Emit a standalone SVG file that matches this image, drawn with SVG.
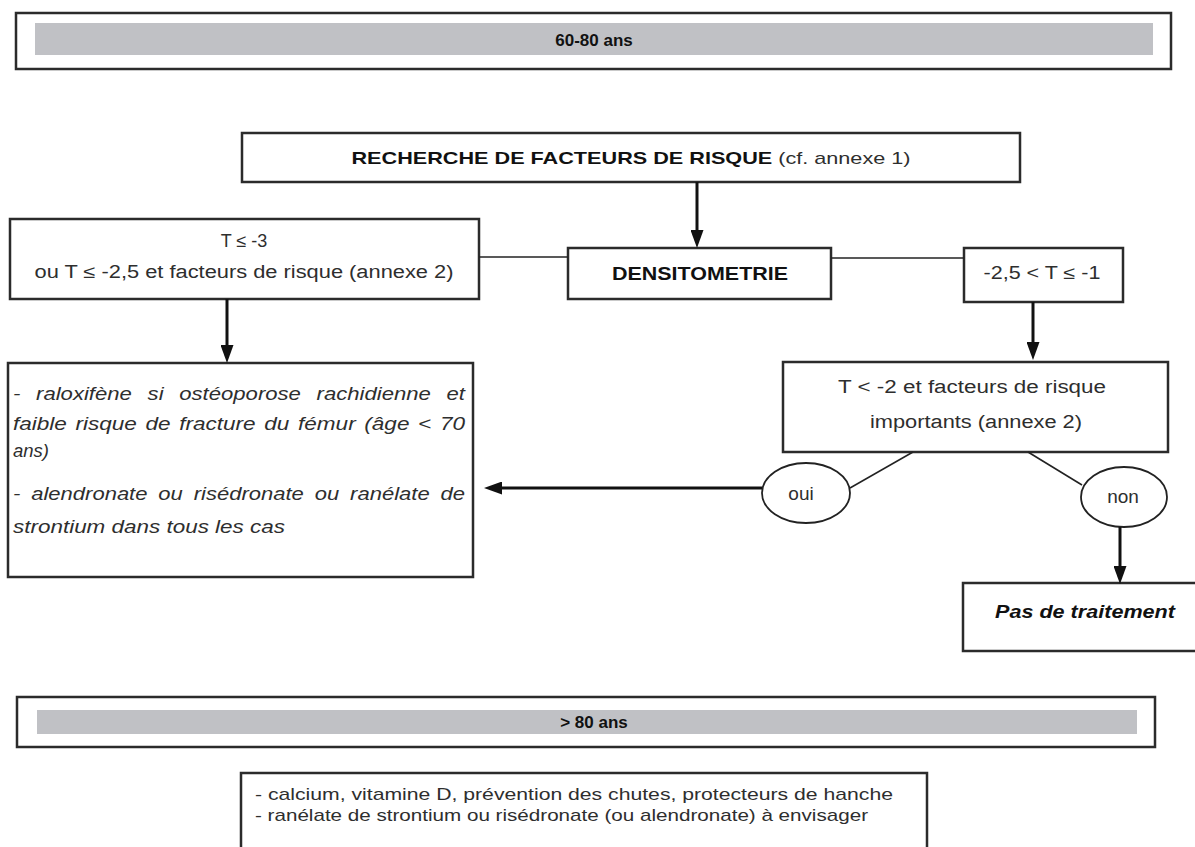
<svg xmlns="http://www.w3.org/2000/svg" width="1195" height="847" viewBox="0 0 1195 847">
<defs>
<marker id="ah" markerUnits="userSpaceOnUse" markerWidth="18" markerHeight="13" viewBox="0 0 18 13" refX="1" refY="6.5" orient="auto">
<path d="M0,0 L18,6.5 L0,13 z" fill="#111"/>
</marker>
<style>
.box{fill:#fff;stroke:#2b2b2b;stroke-width:2.5}
.band{fill:#c0c1c5}
.t{font-family:"Liberation Sans",Arial,sans-serif;font-size:17px;fill:#2e2e2e}
.b{font-weight:bold;fill:#111}
.i{font-style:italic}
.j{font-size:18.5px}
.arr{stroke:#111;stroke-width:3;fill:none}
.thin{stroke:#222;stroke-width:1.6;fill:none}
</style>
</defs>
<rect width="1195" height="847" fill="#fff"/>

<g id="banner-60-80">
<rect class="box" x="16" y="13" width="1155" height="56"/>
<rect class="band" x="35" y="23" width="1118" height="32"/>
<text class="t b" x="594" y="46" text-anchor="middle" style="font-size:17px">60-80 ans</text>
</g>

<g id="recherche">
<rect class="box" x="242" y="133" width="778" height="49"/>
<text class="t" x="631" y="164" text-anchor="middle" textLength="559" lengthAdjust="spacingAndGlyphs"><tspan class="b">RECHERCHE DE FACTEURS DE RISQUE</tspan> (cf. annexe 1)</text>
</g>

<g id="t-3">
<rect class="box" x="10" y="219" width="469" height="80"/>
<text class="t" x="244" y="247" text-anchor="middle" style="font-size:18px">T ≤ -3</text>
<text class="t" x="244" y="278" text-anchor="middle" textLength="419" lengthAdjust="spacingAndGlyphs" style="font-size:18px">ou T ≤ -2,5 et facteurs de risque (annexe 2)</text>
</g>

<g id="densitometrie">
<rect class="box" x="568" y="248" width="263" height="51"/>
<text class="t b" x="700" y="280" text-anchor="middle" textLength="176" lengthAdjust="spacingAndGlyphs" style="font-size:18px">DENSITOMETRIE</text>
</g>

<g id="t-25-1">
<rect class="box" x="964" y="248" width="159" height="54"/>
<text class="t" x="1042" y="279" text-anchor="middle" textLength="117" lengthAdjust="spacingAndGlyphs" style="font-size:18px">-2,5 &lt; T ≤ -1</text>
</g>

<g id="t-2">
<rect class="box" x="783" y="362" width="385" height="90"/>
<text class="t" x="972" y="393" text-anchor="middle" textLength="268" lengthAdjust="spacingAndGlyphs" style="font-size:18px">T &lt; -2 et facteurs de risque</text>
<text class="t" x="976" y="428" text-anchor="middle" textLength="212" lengthAdjust="spacingAndGlyphs" style="font-size:18px">importants (annexe 2)</text>
</g>

<g id="traitements">
<rect class="box" x="8" y="363" width="465" height="214"/>
<text class="t i j" x="13" y="400" textLength="452" lengthAdjust="spacingAndGlyphs" word-spacing="8">- raloxifène si ostéoporose rachidienne et</text>
<text class="t i j" x="13" y="430" textLength="452" lengthAdjust="spacingAndGlyphs" word-spacing="2">faible risque de fracture du fémur (âge &lt; 70</text>
<text class="t i j" x="13" y="457">ans)</text>
<text class="t i j" x="13" y="500" textLength="452" lengthAdjust="spacingAndGlyphs" word-spacing="4">- alendronate ou risédronate ou ranélate de</text>
<text class="t i j" x="13" y="533" textLength="272" lengthAdjust="spacingAndGlyphs">strontium dans tous les cas</text>
</g>

<g id="oui">
<ellipse cx="806" cy="493" rx="44" ry="30" fill="#fff" stroke="#222" stroke-width="1.8"/>
<text class="t" x="801" y="500" text-anchor="middle" style="font-size:19px">oui</text>
</g>

<g id="non">
<ellipse cx="1124" cy="497" rx="43" ry="30" fill="#fff" stroke="#222" stroke-width="1.8"/>
<text class="t" x="1123" y="503" text-anchor="middle" style="font-size:19px">non</text>
</g>

<g id="pas-traitement">
<rect class="box" x="963" y="583" width="240" height="68"/>
<text class="t b i" x="1085" y="618" text-anchor="middle" textLength="180" lengthAdjust="spacingAndGlyphs" style="font-size:18px">Pas de traitement</text>
</g>

<g id="banner-80">
<rect class="box" x="17" y="697" width="1138" height="50"/>
<rect class="band" x="37" y="710" width="1100" height="24"/>
<text class="t b" x="594" y="728" text-anchor="middle" style="font-size:17px">&gt; 80 ans</text>
</g>

<g id="plus-80">
<rect class="box" x="241" y="773" width="686" height="90"/>
<text class="t" x="255" y="800" textLength="638" lengthAdjust="spacingAndGlyphs">- calcium, vitamine D, prévention des chutes, protecteurs de hanche</text>
<text class="t" x="255" y="821" textLength="613" lengthAdjust="spacingAndGlyphs">- ranélate de strontium ou risédronate (ou alendronate) à envisager</text>
</g>

<g id="connectors">
<line class="arr" x1="697" y1="182" x2="697" y2="231" marker-end="url(#ah)"/>
<line class="arr" x1="227" y1="299" x2="227" y2="346" marker-end="url(#ah)"/>
<line class="arr" x1="1033" y1="302" x2="1033" y2="343" marker-end="url(#ah)"/>
<line class="arr" x1="762" y1="488" x2="501" y2="488" marker-end="url(#ah)"/>
<line class="arr" x1="1120" y1="527" x2="1120" y2="567" marker-end="url(#ah)"/>
<line class="thin" x1="479" y1="257" x2="568" y2="257"/>
<line class="thin" x1="831" y1="258" x2="964" y2="258"/>
<line class="thin" x1="913" y1="452" x2="850" y2="488"/>
<line class="thin" x1="1028" y1="452" x2="1082" y2="485"/>
</g>
</svg>
